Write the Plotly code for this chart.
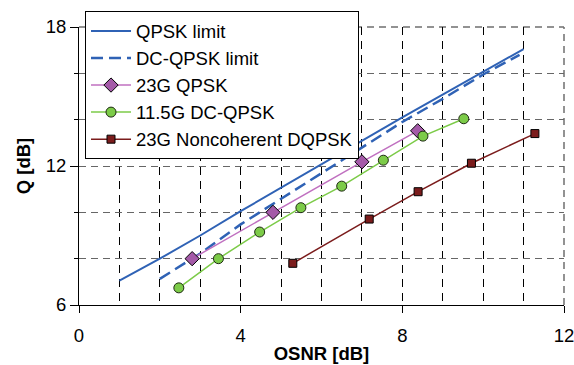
import plotly.graph_objects as go

# ---- data ----
qpsk_limit_x = [1, 2, 3, 4, 8, 10, 11]
qpsk_limit_q = [7.05, 8.0, 9.0, 10.05, 14.1, 16.05, 17.05]

dc_limit_x = [2, 3, 4, 6, 8, 9, 10, 10.9]
dc_limit_q = [7.13, 8.22, 9.48, 11.7, 13.9, 14.9, 15.95, 16.8]

qpsk23_x = [2.8, 4.8, 7.0, 8.38]
qpsk23_q = [8.0, 10.0, 12.18, 13.52]

dc115_x = [2.47, 3.45, 4.47, 5.49, 6.5, 7.53, 8.51, 9.52]
dc115_q = [6.74, 8.0, 9.15, 10.2, 11.13, 12.25, 13.29, 14.04]

nc23_x = [5.29, 7.18, 8.39, 9.71, 11.28]
nc23_q = [7.8, 9.71, 10.89, 12.12, 13.4]

x_ticks = [0, 4, 8, 12]
x_minor = [1, 2, 3, 5, 6, 7, 9, 10, 11]
y_ticks = [6, 12, 18]
y_minor = [8, 10, 14, 16]

FONT = "Liberation Sans, Arial, sans-serif"
BLUE = "#2F62B5"
FS = 18.5
BORDER = dict(color="#6f6f6f", width=1.5, dash="7px,5px")

fig = go.Figure()
fig.add_trace(go.Scatter(x=qpsk_limit_x, y=qpsk_limit_q, mode="lines",
                         name="QPSK limit", line=dict(color=BLUE, width=2)))
fig.add_trace(go.Scatter(x=dc_limit_x, y=dc_limit_q, mode="lines",
                         name="DC-QPSK limit",
                         line=dict(color=BLUE, width=2.5, dash="12px,6px")))
fig.add_trace(go.Scatter(x=qpsk23_x, y=qpsk23_q, mode="lines+markers",
                         name="23G QPSK",
                         line=dict(color="#C070C0", width=1.5),
                         marker=dict(symbol="diamond", size=11, color="#A45AA8",
                                     line=dict(color="black", width=1))))
fig.add_trace(go.Scatter(x=dc115_x, y=dc115_q, mode="lines+markers",
                         name="11.5G DC-QPSK",
                         line=dict(color="#7CCB48", width=1.5),
                         marker=dict(symbol="circle", size=10, color="#7CCB48",
                                     line=dict(color="#1f2a14", width=1))))
fig.add_trace(go.Scatter(x=nc23_x, y=nc23_q, mode="lines+markers",
                         name="23G Noncoherent DQPSK",
                         line=dict(color="#7B1C1C", width=1.5),
                         marker=dict(symbol="square", size=8, color="#7B1C1C",
                                     line=dict(color="black", width=1))))

fig.update_layout(
    width=574, height=365,
    margin=dict(l=79, r=10, t=27, b=60, autoexpand=False),
    paper_bgcolor="white", plot_bgcolor="white",
    font=dict(family=FONT, size=FS, color="black"),
    showlegend=True,
    legend=dict(x=0.0124, y=1.056, xanchor="left", yanchor="top",
                bgcolor="white", bordercolor="black", borderwidth=1,
                font=dict(family=FONT, size=18.5, color="black"),
                tracegroupgap=0, itemwidth=40),
    xaxis=dict(range=[0, 12], tickmode="array", tickvals=x_ticks,
               ticks="outside", ticklen=7, tickcolor="black",
               ticklabelstandoff=7, ticklabeloverflow="allow",
               showline=True, linecolor="black", linewidth=1,
               showgrid=True, gridcolor="black", gridwidth=1, griddash="8px,6px",
               zeroline=False, automargin=False,
               minor=dict(tickmode="array", tickvals=x_minor, ticks="",
                          showgrid=True, gridcolor="black", gridwidth=1,
                          griddash="8px,6px"),
               title=dict(text="<b>OSNR [dB]</b>", standoff=1,
                          font=dict(family=FONT, size=FS))),
    yaxis=dict(range=[6, 18], tickmode="array", tickvals=y_ticks,
               ticks="outside", ticklen=8, tickcolor="black",
               ticklabeloverflow="allow",
               showline=True, linecolor="black", linewidth=1,
               showgrid=True, gridcolor="#666666", gridwidth=1, griddash="7px,5px",
               zeroline=False, automargin=False,
               minor=dict(tickmode="array", tickvals=y_minor, ticks="outside",
                          ticklen=4, tickcolor="black",
                          showgrid=True, gridcolor="#666666", gridwidth=1,
                          griddash="7px,5px"),
               title=dict(text="<b>Q [dB]</b>", standoff=10,
                          font=dict(family=FONT, size=FS))),
    shapes=[
        dict(type="line", xref="paper", yref="paper", x0=1, x1=1, y0=0, y1=1,
             line=BORDER, layer="below"),
        dict(type="line", xref="paper", yref="paper", x0=0, x1=1, y0=1, y1=1,
             line=BORDER, layer="below"),
    ],
)

fig.write_html("out.html", config={"displayModeBar": False},
               post_script="document.body.style.margin='0';document.body.style.overflow='hidden';")
